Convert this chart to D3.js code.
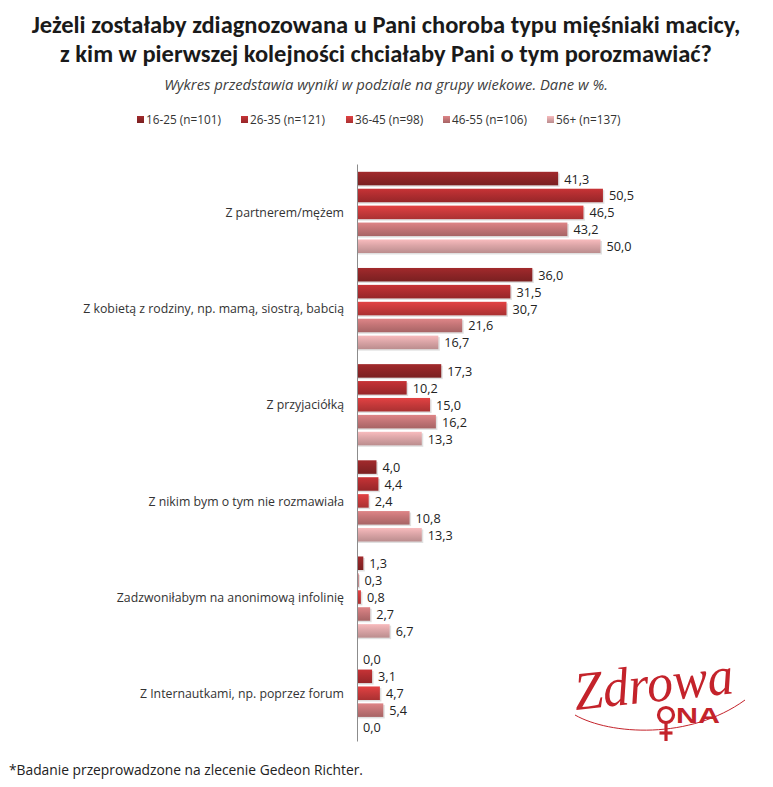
<!DOCTYPE html>
<html><head><meta charset="utf-8">
<script src="https://cdn.jsdelivr.net/npm/d3@7"></script>
<style>body{margin:0;background:#fff}svg{display:block}</style>
</head><body>
<script>
const categories = ["Z partnerem/mężem","Z kobietą z rodziny, np. mamą, siostrą, babcią","Z przyjaciółką","Z nikim bym o tym nie rozmawiała","Zadzwoniłabym na anonimową infolinię","Z Internautkami, np. poprzez forum"];
const seriesNames = ["16-25 (n=101)","26-35 (n=121)","36-45 (n=98)","46-55 (n=106)","56+ (n=137)"];
const s1625 = [41.3, 36.0, 17.3, 4.0, 1.3, 0.0];
const s2635 = [50.5, 31.5, 10.2, 4.4, 0.3, 3.1];
const s3645 = [46.5, 30.7, 15.0, 2.4, 0.8, 4.7];
const s4655 = [43.2, 21.6, 16.2, 10.8, 2.7, 5.4];
const s56 = [50.0, 16.7, 13.3, 13.3, 6.7, 0.0];
const seriesValues = [s1625, s2635, s3645, s4655, s56];
const colors = ["#8f2527","#b02d30","#c83a3b","#c47577","#dba5a7"];

const W = 773, H = 787;
const tfont = "Carlito, Lato, 'Open Sans', sans-serif";
const font = "'Open Sans', 'Noto Sans', sans-serif";
const svg = d3.select("body").append("svg").attr("width", W).attr("height", H);
const defs = svg.append("defs");
colors.forEach((c, i) => {
  const g = defs.append("linearGradient").attr("id", "g" + i).attr("x1", 0).attr("y1", 0).attr("x2", 0).attr("y2", 1);
  g.append("stop").attr("offset", "0%").attr("stop-color", d3.color(c).brighter(0.35));
  g.append("stop").attr("offset", "45%").attr("stop-color", c);
  g.append("stop").attr("offset", "100%").attr("stop-color", d3.color(c).darker(0.45));
});

// Title
const title = svg.append("text").attr("text-anchor", "middle").attr("font-family", tfont)
  .attr("font-weight", "bold").attr("font-size", 24.5).attr("fill", "#1a1a1a");
title.append("tspan").attr("x", 386).attr("y", 33).text("Jeżeli zostałaby zdiagnozowana u Pani choroba typu  mięśniaki macicy,");
title.append("tspan").attr("x", 386).attr("y", 62).text("z kim w pierwszej kolejności chciałaby Pani o tym porozmawiać?");
svg.append("text").attr("x", 386).attr("y", 90).attr("text-anchor", "middle").attr("font-family", font)
  .attr("font-style", "italic").attr("font-size", 14.8).attr("fill", "#404040")
  .text("Wykres przedstawia wyniki w podziale na grupy wiekowe. Dane w %.");

// Legend
const legX = [137, 241, 346, 443, 547];
const leg = svg.append("g");
seriesNames.forEach((n, i) => {
  leg.append("rect").attr("x", legX[i]).attr("y", 116).attr("width", 7).attr("height", 7).attr("fill", `url(#g${i})`);
  leg.append("text").attr("x", legX[i] + 9).attr("y", 124).attr("font-family", font).attr("font-size", 11.8)
    .attr("fill", "#333").text(n);
});

// Scales
const x = d3.scaleLinear().domain([0, 50]).range([357, 600.5]);
const y0 = d3.scaleBand().domain(categories).range([164, 741]);
const y1 = d3.scaleBand().domain(seriesNames).range([7.8, 89]).paddingInner(0.2).paddingOuter(0);

const groups = svg.append("g").selectAll("g").data(categories).join("g")
  .attr("transform", d => `translate(0,${y0(d)})`);

groups.each(function(cat, ci) {
  const g = d3.select(this);
  seriesNames.forEach((s, si) => {
    const v = seriesValues[si][ci];
    const yy = y1(s);
    const bh = y1.bandwidth();
    if (v > 0) {
      g.append("rect").attr("x", x(0)).attr("y", yy + 1.5).attr("width", x(v) - x(0) + 1.5).attr("height", bh)
        .attr("fill", "#000").attr("opacity", 0.12);
      g.append("rect").attr("x", x(0)).attr("y", yy).attr("width", x(v) - x(0)).attr("height", bh)
        .attr("fill", `url(#g${si})`);
    }
    g.append("text").attr("x", x(v) + 6).attr("y", yy + bh / 2 + 5).attr("font-family", font)
      .attr("font-size", 12.7).attr("fill", "#222").text(d3.format(".1f")(v).replace(".", ","));
  });
  g.append("text").attr("x", 344).attr("y", y0.bandwidth() / 2 + 5).attr("text-anchor", "end")
    .attr("font-family", font).attr("font-size", 12.3).attr("fill", "#333").text(cat);
});

// Axis line
const axis = d3.axisLeft(y0).tickSize(0).tickFormat("");
svg.append("g").attr("transform", `translate(${x(0)},0)`).call(axis)
  .call(g => g.select(".domain").attr("stroke", "#8c8c8c").attr("stroke-width", 1));

// Footer
svg.append("text").attr("x", 9).attr("y", 775).attr("font-family", font).attr("font-size", 13.8)
  .attr("fill", "#222").text("*Badanie przeprowadzone na zlecenie Gedeon Richter.");

// Logo
const red = "#c4232b";
const logo = svg.append("g");
logo.append("text").attr("x", 574).attr("y", 702).attr("font-family", "'Liberation Serif', serif")
  .attr("font-style", "italic").attr("font-size", 54).attr("transform", "rotate(-6,650,690)")
  .attr("fill", red).attr("textLength", 160).attr("lengthAdjust", "spacingAndGlyphs").text("Zdrowa");
logo.append("path").attr("d", "M 575 715 C 610 735, 690 740, 745 700").attr("fill", "none").attr("stroke", red).attr("stroke-width", 1);
logo.append("circle").attr("cx", 666).attr("cy", 715).attr("r", 7.5).attr("fill", "#fff").attr("stroke", red).attr("stroke-width", 3.2);
logo.append("line").attr("x1", 666).attr("x2", 666).attr("y1", 723).attr("y2", 741).attr("stroke", red).attr("stroke-width", 3.2);
logo.append("line").attr("x1", 659.5).attr("x2", 672.5).attr("y1", 733).attr("y2", 733).attr("stroke", red).attr("stroke-width", 3.2);
logo.append("text").attr("x", 676).attr("y", 723).attr("font-family", "'Liberation Sans', Arial, sans-serif")
  .attr("font-weight", "bold").attr("font-size", 22).attr("fill", red)
  .attr("textLength", 44).attr("lengthAdjust", "spacingAndGlyphs").text("NA");
</script>
</body></html>
